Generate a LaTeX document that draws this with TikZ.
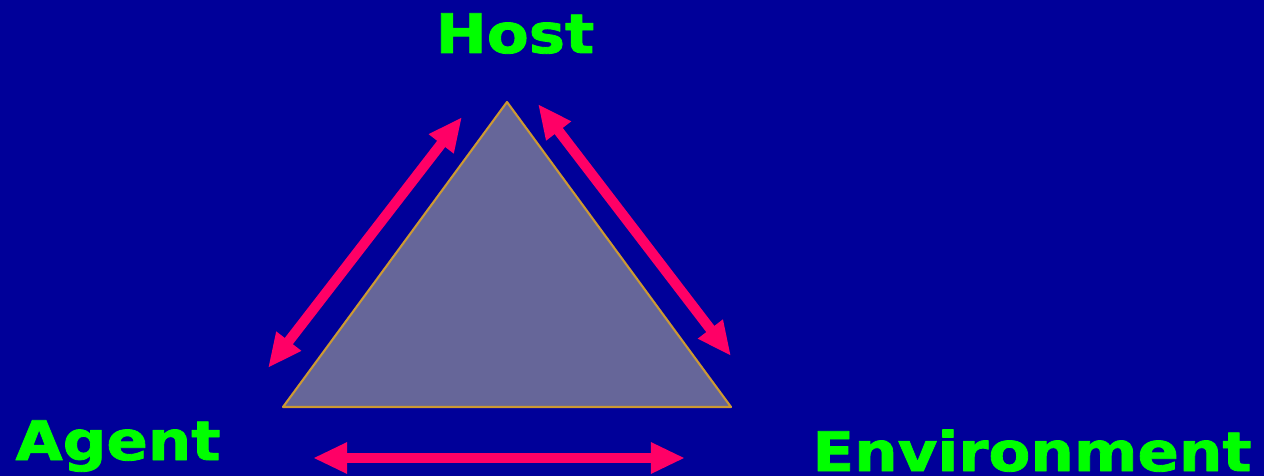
\documentclass[tikz,border=0pt]{standalone}
\usepackage{fontspec}
\setmainfont{DejaVu Sans}
\newfontfamily\labfont[FakeStretch=1.12,FakeBold=1.5]{DejaVu Sans Bold}
\usetikzlibrary{arrows.meta}
\definecolor{bgblue}{HTML}{000099}
\definecolor{labgreen}{HTML}{00FF00}
\definecolor{trifill}{HTML}{666699}
\definecolor{triedge}{HTML}{CC9933}
\definecolor{arrred}{HTML}{FF0066}
\tikzset{
  lab/.style={text=labgreen,font=\labfont\fontsize{15.5}{18}\selectfont,anchor=base,inner sep=0pt},
  link/.style={arrred,line width=2.9pt,{Triangle[length=0.34cm,width=0.29cm]}-{Triangle[length=0.34cm,width=0.29cm]}}
}
\begin{document}
\begin{tikzpicture}[x=0.01cm,y=-0.01cm, line join=round]
	\fill[bgblue] (0,0) rectangle (1264,476);
	\useasboundingbox (0,0) rectangle (1264,476);
	% triangle corners
	\coordinate (top) at (507,102);
	\coordinate (bl) at (283,407);
	\coordinate (br) at (731,407);
	\draw[triedge,fill=trifill,line width=0.6pt] (top)--(br)--(bl)--cycle;
	% arrow ends
	\coordinate (la) at (268,368);
	\coordinate (lb) at (462,117);
	\coordinate (ra) at (538,104);
	\coordinate (rb) at (731,356);
	\coordinate (ba) at (313,458);
	\coordinate (bb) at (685,458);
	\draw[link] (la)--(lb);
	\draw[link] (ra)--(rb);
	\draw[link] (ba)--(bb);
	% labels
	\node[lab] (host) at (515,53) {Host};
	\node[lab] (agent) at (118,460) {Agent};
	\node[lab] (env) at (1032,471) {Environment};
\end{tikzpicture}
\end{document}
